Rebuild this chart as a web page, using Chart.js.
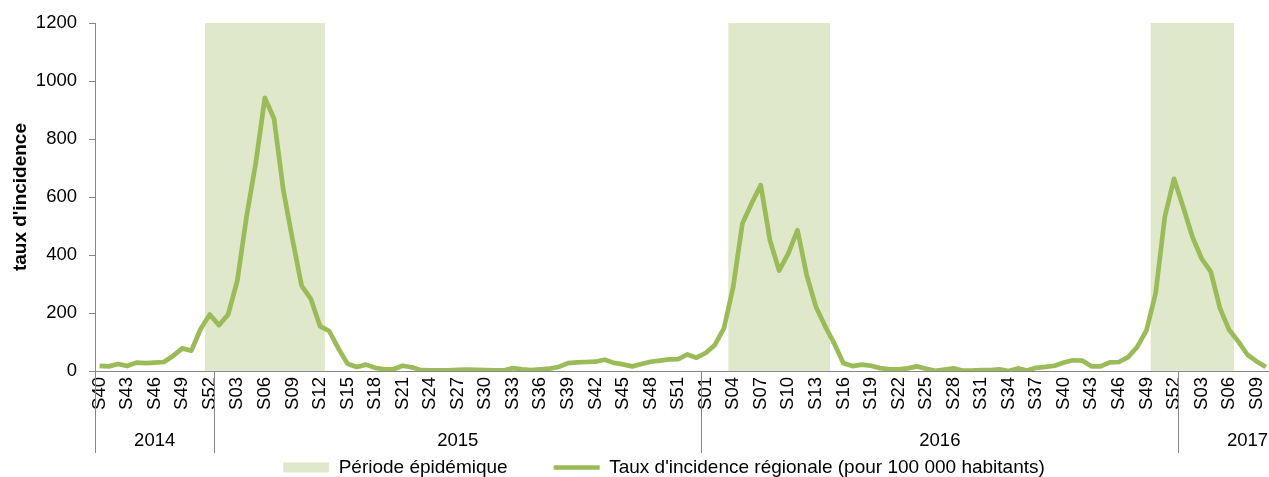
<!DOCTYPE html>
<html>
<head>
<meta charset="utf-8">
<script src="https://cdn.jsdelivr.net/npm/chart.js@4.4.1/dist/chart.umd.min.js"></script>
<style>
  html, body { margin: 0; padding: 0; overflow: hidden; background: #ffffff; }
  #wrap { position: relative; width: 1340px; height: 477px; }
</style>
</head>
<body>
<div id="wrap"><canvas id="chart"></canvas></div>
<script>
// ---- Data ----
const yearLabels = ['2014', '2015', '2016', '2017'];
const yearWeekCounts = [13, 53, 52, 15];
const yearFirstWeek = [40, 1, 1, 1];

// Regional incidence rate per 100 000 inhabitants (S40 2014 -> S10 2017)
const incidence = [
  18, 16, 24, 17, 29, 27, 29, 31, 52, 78, 70, 145, 195,            // 2014 S40-S52
  158, 195, 312, 532, 716, 942, 870, 625, 455, 294, 249, 155, 138,  // 2015 S01-S13
  78, 25, 14, 22, 11, 6, 6, 18, 13, 3, 2, 2, 2,                     // 2015 S14-S26
  4, 5, 4, 3, 2, 2, 10, 6, 3, 6, 8, 14, 27,                         // 2015 S27-S39
  30, 31, 32, 39, 28, 23, 16, 24, 32, 36, 40, 41, 57, 46,           // 2015 S40-S53
  62, 90, 148, 291, 509, 578, 641, 451, 346, 406, 486, 331, 222,    // 2016 S01-S13
  155, 95, 27, 17, 22, 18, 10, 6, 6, 9, 16, 8, 1,                   // 2016 S14-S26
  5, 9, 1, 1, 3, 3, 6, 0, 9, 2, 11, 14, 18,                         // 2016 S27-S39
  29, 37, 36, 16, 16, 30, 31, 48, 83, 140, 268, 532, 663,           // 2016 S40-S52
  566, 463, 388, 343, 217, 142, 102, 56, 33, 14,                    // 2017 S01-S10
  null, null, null, null, null                                      // 2017 S11-S15
];

const epidemicStart = ['2014-S52', '2016-S04', '2016-S50'];
const epidemicEnd   = ['2015-S12', '2016-S14', '2017-S06'];

const yMin = 0, yMax = 1200, yStep = 200;
const seriesLabels = ['Période épidémique', "Taux d'incidence régionale (pour 100 000 habitants)"];
const yTitle = "taux d'incidence";

// ---- Build categories ----
const weekLabels = [];
const weekKeys = [];
yearLabels.forEach((y, k) => {
  for (let j = 0; j < yearWeekCounts[k]; j++) {
    const w = 'S' + String(yearFirstWeek[k] + j).padStart(2, '0');
    weekLabels.push(w);
    weekKeys.push(y + '-' + w);
  }
});
const epidemic = weekKeys.map(() => null);
epidemicStart.forEach((s, p) => {
  const a = weekKeys.indexOf(s), b = weekKeys.indexOf(epidemicEnd[p]);
  for (let i = a; i <= b; i++) epidemic[i] = yMax;
});

// ---- Styles ----
const FONT = "'Liberation Sans', Arial, Helvetica, sans-serif";
const AXIS_COLOR = '#868686';
const LINE_COLOR = '#9bbb59';
const SHADE_COLOR = '#dfe8ca';
const TICK_SIZE = 18.5;
const LEGEND_SIZE = 19;
Chart.defaults.font.family = FONT;
Chart.defaults.font.size = TICK_SIZE;
Chart.defaults.color = '#000000';

const YEAR_ROW_HEIGHT = 82;
const LEGEND_TEXT_CENTER = 467.5;

function alignPx(p) { return Math.round(p - 0.5) + 0.5; }

const yearRowPlugin = {
  id: 'yearRow',
  afterDraw(chart) {
    const xs = chart.scales.x;
    const ctx = chart.ctx;
    const top = chart.chartArea.bottom;
    const half = (xs.getPixelForValue(1) - xs.getPixelForValue(0)) / 2;
    ctx.save();
    ctx.strokeStyle = AXIS_COLOR;
    ctx.lineWidth = 1;
    ctx.fillStyle = '#000000';
    ctx.font = TICK_SIZE + 'px ' + FONT;
    ctx.textAlign = 'center';
    ctx.textBaseline = 'middle';
    let start = 0;
    yearLabels.forEach((yl, k) => {
      const end = start + yearWeekCounts[k];
      const x0 = xs.getPixelForValue(start) - half;
      const x1 = xs.getPixelForValue(end - 1) + half;
      ctx.beginPath();
      ctx.moveTo(alignPx(x0), top);
      ctx.lineTo(alignPx(x0), top + YEAR_ROW_HEIGHT);
      if (k === yearLabels.length - 1) {
        ctx.moveTo(alignPx(x1), top);
        ctx.lineTo(alignPx(x1), top + YEAR_ROW_HEIGHT);
      }
      ctx.stroke();
      ctx.fillText(yl, (x0 + x1) / 2, top + 70);
      start = end;
    });
    ctx.restore();
  }
};

const legendShiftPlugin = {
  id: 'legendShift',
  beforeDraw(chart) {
    const lg = chart.legend;
    if (!lg) return;
    lg._savedTop = lg.top;
    lg.top = LEGEND_TEXT_CENTER - lg.options.labels.padding - LEGEND_SIZE / 2;
  },
  afterDraw(chart) {
    const lg = chart.legend;
    if (lg && lg._savedTop !== undefined) { lg.top = lg._savedTop; }
  }
};

new Chart(document.getElementById('chart'), {
  data: {
    labels: weekLabels,
    datasets: [
      {
        type: 'line',
        label: seriesLabels[1],
        data: incidence,
        borderColor: LINE_COLOR,
        backgroundColor: LINE_COLOR,
        borderWidth: 4.7,
        pointRadius: 0,
        pointHoverRadius: 0,
        pointStyle: 'line',
        tension: 0,
        borderJoinStyle: 'round',
        borderCapStyle: 'butt',
        order: 1
      },
      {
        type: 'bar',
        label: seriesLabels[0],
        data: epidemic,
        backgroundColor: SHADE_COLOR,
        borderWidth: 0,
        categoryPercentage: 1,
        barPercentage: 1,
        pointStyle: 'rect',
        order: 2
      }
    ]
  },
  options: {
    responsive: true,
    maintainAspectRatio: false,
    animation: false,
    layout: { padding: { top: 12, right: 12, bottom: 0, left: 0 } },
    plugins: {
      tooltip: { enabled: false },
      legend: {
        position: 'bottom',
        maxHeight: 24,
        reverse: true,
        labels: {
          usePointStyle: true,
          pointStyleWidth: 46,
          boxHeight: 10,
          padding: 46,
          color: '#000000',
          font: { size: LEGEND_SIZE, family: FONT }
        }
      }
    },
    scales: {
      x: {
        type: 'category',
        offset: true,
        grid: { display: true, drawOnChartArea: false, drawTicks: false },
        border: { display: true, color: AXIS_COLOR, width: 1 },
        ticks: {
          autoSkip: false,
          minRotation: 90,
          maxRotation: 90,
          padding: 6,
          color: '#000000',
          font: { size: TICK_SIZE },
          callback: function (value, index) {
            return index % 3 === 0 ? this.getLabelForValue(value) : '';
          }
        },
        afterFit(scale) { scale.height = YEAR_ROW_HEIGHT; }
      },
      y: {
        min: yMin,
        max: yMax,
        grid: { display: true, drawOnChartArea: false, drawTicks: true, tickLength: 6, color: AXIS_COLOR },
        border: { display: true, color: AXIS_COLOR, width: 1 },
        ticks: {
          stepSize: yStep,
          padding: 12,
          color: '#000000',
          font: { size: TICK_SIZE },
          callback: (v) => String(v)
        },
        title: {
          display: true,
          text: yTitle,
          color: '#000000',
          font: { size: LEGEND_SIZE, weight: 'bold' },
          padding: { top: 9, bottom: 0 }
        },
        afterFit(scale) { scale.width = 95; }
      }
    }
  },
  plugins: [yearRowPlugin, legendShiftPlugin]
});
</script>
</body>
</html>
